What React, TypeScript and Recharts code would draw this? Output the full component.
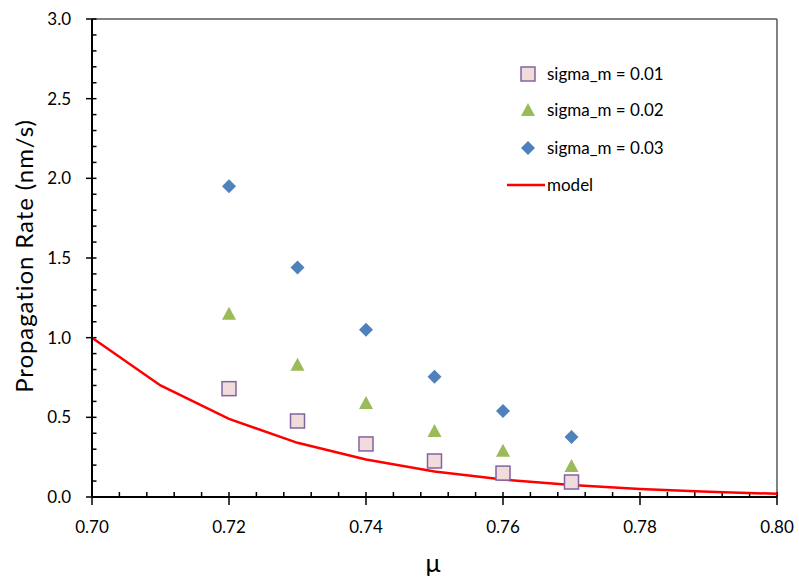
import React from "react";
import {
  ComposedChart,
  Scatter,
  Line,
  XAxis,
  YAxis,
  ReferenceLine,
  Legend,
} from "recharts";

const muTicks = [0.7, 0.72, 0.74, 0.76, 0.78, 0.8];
const rateTicks = [0, 0.5, 1, 1.5, 2, 2.5, 3];

const sigmaMu = [0.72, 0.73, 0.74, 0.75, 0.76, 0.77];
const sigma01 = [0.68, 0.477, 0.333, 0.226, 0.15, 0.094];
const sigma02 = [1.15, 0.83, 0.59, 0.414, 0.29, 0.195];
const sigma03 = [1.95, 1.44, 1.05, 0.755, 0.54, 0.377];

const modelMu = [0.7, 0.71, 0.72, 0.73, 0.74, 0.75, 0.76, 0.77, 0.78, 0.79, 0.8];
const modelRate = [1.0, 0.7, 0.49, 0.34, 0.235, 0.16, 0.11, 0.075, 0.05, 0.033, 0.02];

const FONT = "Lato, 'Noto Sans', sans-serif";

const toPoints = (xs: number[], ys: number[]) => xs.map((mu, i) => ({ mu, rate: ys[i] }));

const s01 = toPoints(sigmaMu, sigma01);
const s02 = toPoints(sigmaMu, sigma02);
const s03 = toPoints(sigmaMu, sigma03);
const model = toPoints(modelMu, modelRate);

// minor tick positions (axis decoration only)
const minorX: number[] = [];
for (let i = 1; i < 25; i++) if (i % 5 !== 0) minorX.push(+(0.7 + i * 0.004).toFixed(3));
const minorY: number[] = [];
for (let i = 1; i < 30; i++) if (i % 5 !== 0) minorY.push(+(i * 0.1).toFixed(1));

// px -> data units for tick lengths (plot 685px per 0.1, 478px per 3.0)
const pxX = 0.1 / 685;
const pxY = 3 / 478;

const Square = (p: any) => (
  <rect x={p.cx - 7} y={p.cy - 7} width={14} height={14} fill="#f2dcdb" stroke="#8064a2" strokeWidth={1.5} />
);
const Triangle = (p: any) => (
  <polygon points={`${p.cx},${p.cy - 7} ${p.cx - 7},${p.cy + 6} ${p.cx + 7},${p.cy + 6}`} fill="#9bbb59" />
);
const Diamond = (p: any) => (
  <polygon points={`${p.cx},${p.cy - 7} ${p.cx + 7},${p.cy} ${p.cx},${p.cy + 7} ${p.cx - 7},${p.cy}`} fill="#4f81bd" />
);

const legendRows = ["sigma_m = 0.01", "sigma_m = 0.02", "sigma_m = 0.03", "model"];

const LegendBox = () => (
  <svg width={200} height={145} style={{ fontFamily: FONT }}>
    <Square cx={28} cy={19} />
    <Triangle cx={28} cy={55} />
    <Diamond cx={28} cy={93} />
    <line x1={7} x2={45} y1={130} y2={130} stroke="#ff0000" strokeWidth={2.5} />
    {legendRows.map((t, i) => (
      <text key={t} x={47} y={[19, 55, 93, 130][i] + 6} fontSize={17} fill="#000">
        {t}
      </text>
    ))}
  </svg>
);

export default function App() {
  return (
    <div style={{ position: "absolute", left: 0, top: 0, width: 799, height: 580, background: "#fff" }}>
      <ComposedChart
        width={799}
        height={580}
        margin={{ top: 19, right: 22, bottom: 0, left: 0 }}
        style={{ fontFamily: FONT }}
      >
        <XAxis
          dataKey="mu"
          type="number"
          domain={[0.7, 0.8]}
          ticks={muTicks}
          tickFormatter={(v: number) => v.toFixed(2)}
          allowDataOverflow
          height={83}
          axisLine={{ stroke: "#000", strokeWidth: 2 }}
          tickLine={{ stroke: "#000", strokeWidth: 1.5 }}
          tickSize={8}
          tickMargin={16}
          tick={{ fill: "#000", fontSize: 17 }}
          label={{
            content: () => (
              <text x={433} y={572} textAnchor="middle" fontSize={25} fill="#000" fontFamily={FONT}>
                μ
              </text>
            ),
          }}
        />
        <YAxis
          dataKey="rate"
          type="number"
          domain={[0, 3]}
          ticks={rateTicks}
          tickFormatter={(v: number) => v.toFixed(1)}
          width={92}
          axisLine={{ stroke: "#000", strokeWidth: 2 }}
          tickLine={{ stroke: "#000", strokeWidth: 1.5 }}
          tickSize={6}
          tickMargin={15}
          tick={{ fill: "#000", fontSize: 17 }}
          label={{
            content: () => (
              <text
                x={33}
                y={256}
                transform="rotate(-90 33 256)"
                textAnchor="middle"
                fontSize={24}
                letterSpacing={0.9}
                fill="#000"
                fontFamily={FONT}
              >
                Propagation Rate (nm/s)
              </text>
            ),
          }}
        />
        <ReferenceLine y={3} stroke="#595959" strokeWidth={1.5} />
        <ReferenceLine x={0.8} stroke="#595959" strokeWidth={1.5} />
        {minorX.concat(muTicks).map((v) => (
          <ReferenceLine
            key={"mx" + v}
            segment={[{ x: v, y: 0 }, { x: v, y: 5 * pxY }]}
            stroke="#000"
            strokeWidth={1.5}
            ifOverflow="visible"
          />
        ))}
        {minorY.concat(rateTicks).map((v) => (
          <ReferenceLine
            key={"my" + v}
            segment={[{ x: 0.7, y: v }, { x: 0.7 + 4.5 * pxX, y: v }]}
            stroke="#000"
            strokeWidth={1.5}
            ifOverflow="visible"
          />
        ))}
        <Line
          data={model}
          dataKey="rate"
          type="linear"
          stroke="#ff0000"
          strokeWidth={2.5}
          dot={false}
          isAnimationActive={false}
        />
        <Scatter data={s01} shape={Square} isAnimationActive={false} />
        <Scatter data={s02} shape={Triangle} isAnimationActive={false} />
        <Scatter data={s03} shape={Diamond} isAnimationActive={false} />
        <Legend
          layout="vertical"
          align="center"
          verticalAlign="middle"
          content={() => <LegendBox />}
          wrapperStyle={{ position: "absolute", left: 500, top: 55, width: 200, height: 145 }}
        />
      </ComposedChart>
    </div>
  );
}
